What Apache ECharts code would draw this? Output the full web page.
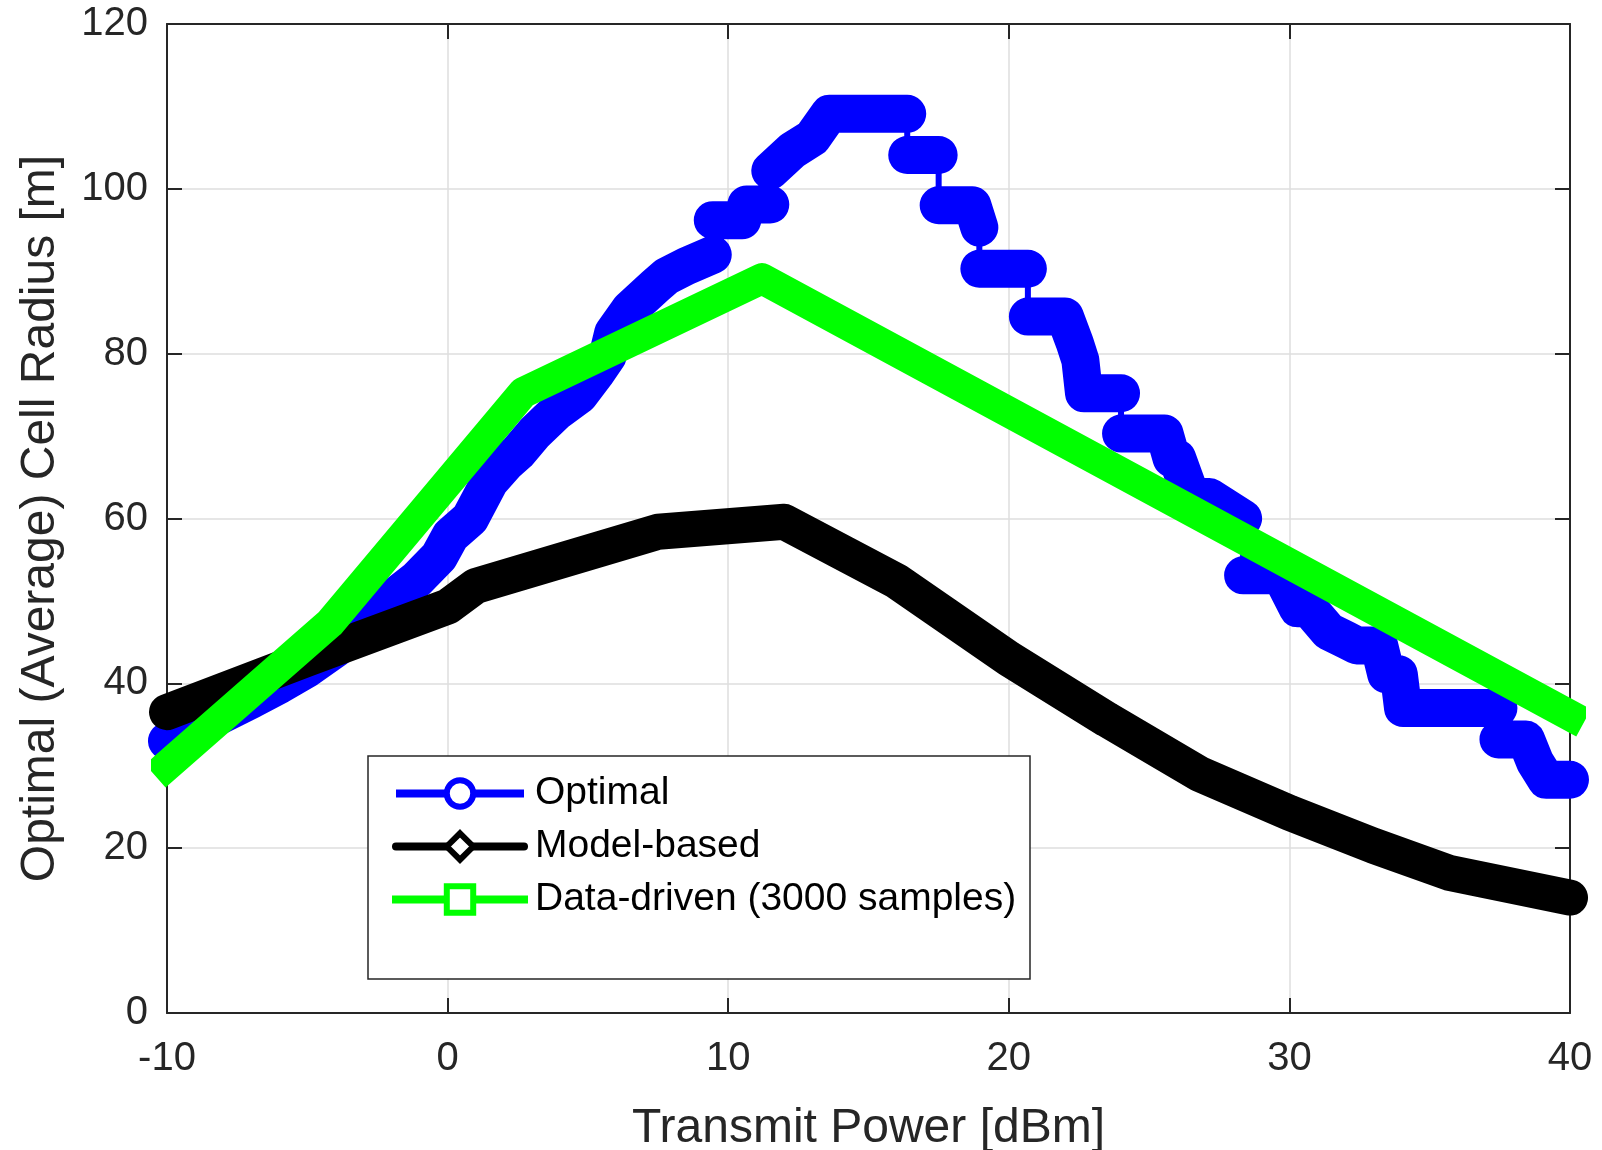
<!DOCTYPE html>
<html><head><meta charset="utf-8">
<script src="https://cdn.jsdelivr.net/npm/echarts@6/dist/echarts.min.js"></script>
<style>html,body{margin:0;padding:0;background:#fff}#c{width:1602px;height:1150px}</style>
</head><body><div id="c"></div>
<script>
// ---- data ----
const xTicks = [-10, 0, 10, 20, 30, 40];
const yTicks = [0, 20, 40, 60, 80, 100, 120];
const seriesNames = ['Optimal', 'Model-based', 'Data-driven (3000 samples)'];
const seriesColors = ['#0000ff', '#000000', '#00ff00'];
const xTitle = 'Transmit Power [dBm]';
const yTitle = 'Optimal (Average) Cell Radius [m]';

// Optimal (step-like, in path order; equal consecutive x = vertical step)
const optimalX = [-10, -9, -8, -7, -6, -5, -4, -3, -2, -1.1, -0.3, 0.1, 0.8, 1.5, 2.1, 2.5, 3.1, 3.9, 4.7, 5.3, 5.7, 5.9, 6.5, 7.4, 7.8, 8.5, 9.45,
  9.45, 10.5, 10.65, 11.5, 11.5, 12.3, 13.0, 13.6, 16.38, 16.38, 17.5, 17.5, 18.7, 18.95, 18.95, 20.68, 20.68, 22.0, 22.35, 22.55, 22.68, 24.0,
  24.0, 25.55, 25.8, 26.0, 26.5, 27.15, 28.35, 28.35, 29.7, 30.3, 30.7, 31.4, 32.0, 32.4, 33.2, 33.45, 33.9, 34.05, 37.45, 37.45, 38.43, 38.75, 39.15, 40];
const optimalY = [33.0, 34.6, 36.3, 38.0, 39.8, 41.8, 44.2, 47.3, 50.2, 52.6, 55.4, 57.9, 60.0, 64.5, 66.8, 68.0, 70.4, 73.0, 75.0, 77.7, 79.7, 82.5, 85.4, 88.2, 89.4, 90.6, 92.0,
  96.2, 96.2, 98.1, 98.1, 102.2, 104.7, 106.2, 109.1, 109.1, 104.1, 104.1, 98.0, 98.0, 95.3, 90.3, 90.3, 84.5, 84.5, 81.3, 79.2, 75.2, 75.2,
  70.3, 70.3, 67.3, 67.3, 62.6, 62.6, 60.0, 53.1, 53.1, 49.1, 49.1, 46.3, 45.3, 44.6, 44.6, 41.1, 41.1, 37.0, 37.0, 33.2, 33.2, 30.5, 28.3, 28.3];

// Model-based
const modelX = [-10, -5, 0, 1, 7.5, 12, 16, 20, 23.5, 26.8, 30, 33, 35.7, 40];
const modelY = [36.5, 43.0, 49.3, 51.8, 58.4, 59.6, 52.4, 43.0, 35.6, 29.0, 24.3, 20.3, 17.0, 14.0];

// Data-driven (3000 samples)
const dataX = [-10, -4.2, 2.7, 11.2, 40];
const dataY = [30.0, 47.3, 75.3, 89.1, 36.1];

// ---- build ----
const FONT = '"Liberation Sans", Arial, Helvetica, sans-serif';
const optPts = optimalX.map((x, i) => [x, optimalY[i]]);
const optThick = [];
for (let i = 0; i < optPts.length; i++) {
  optThick.push(optPts[i]);
  if (i + 1 < optPts.length && optimalX[i + 1] === optimalX[i]) optThick.push([optimalX[i], '-']);
}
const modelPts = modelX.map((x, i) => [x, modelY[i]]);
const dataPts = dataX.map((x, i) => [x, dataY[i]]);

const AX = '#262626';
const xStep = xTicks[1] - xTicks[0];
const yStep = yTicks[1] - yTicks[0];
const baseAxis = {
  axisLine: { show: true, onZero: false, lineStyle: { color: AX, width: 2 } },
  axisTick: { show: true, inside: true, length: 15, lineStyle: { color: AX, width: 2 } }
};

const chart = echarts.init(document.getElementById('c'), null, { renderer: 'canvas' });
chart.setOption({
  animation: false,
  backgroundColor: '#fff',
  grid: { left: 167, right: 32, top: 24, bottom: 137, containLabel: false, outerBoundsMode: 'none' },
  xAxis: [
    Object.assign({}, baseAxis, {
      type: 'value', position: 'bottom', min: xTicks[0], max: xTicks[xTicks.length - 1], interval: xStep,
      name: xTitle, nameLocation: 'middle', nameGap: 92, nameMoveOverlap: false,
      nameTextStyle: { fontFamily: FONT, fontSize: 48, color: AX },
      axisLabel: { margin: 26, fontFamily: FONT, fontSize: 40, color: AX },
      splitLine: { show: true, lineStyle: { color: '#dedede', width: 1.5 } }
    }),
    Object.assign({}, baseAxis, {
      type: 'value', position: 'top', min: xTicks[0], max: xTicks[xTicks.length - 1], interval: xStep,
      axisLabel: { show: false }, splitLine: { show: false }
    })
  ],
  yAxis: [
    Object.assign({}, baseAxis, {
      type: 'value', position: 'left', min: yTicks[0], max: yTicks[yTicks.length - 1], interval: yStep,
      name: yTitle, nameLocation: 'middle', nameGap: 102, nameRotate: 90, nameMoveOverlap: false,
      nameTextStyle: { fontFamily: FONT, fontSize: 48, color: AX },
      axisLabel: { margin: 19, fontFamily: FONT, fontSize: 40, color: AX },
      splitLine: { show: true, lineStyle: { color: '#dedede', width: 1.5 } }
    }),
    Object.assign({}, baseAxis, {
      type: 'value', position: 'right', min: yTicks[0], max: yTicks[yTicks.length - 1], interval: yStep,
      axisLabel: { show: false }, splitLine: { show: false }
    })
  ],
  legend: {
    show: true, orient: 'vertical', left: 392, top: 774, padding: 0, itemGap: 14,
    itemWidth: 128, itemHeight: 33, selectedMode: false, z: 10,
    data: seriesNames.map((n, i) => ({
      name: n,
      itemStyle: { color: '#ffffff', borderColor: seriesColors[i], borderWidth: 6 },
      lineStyle: { width: 8, color: seriesColors[i] }
    })),
    lineStyle: { width: 8 },
    textStyle: { fontFamily: FONT, fontSize: 39, color: '#000', padding: [0, 0, 0, 6] }
  },
  graphic: [{
    type: 'rect', z: 3, silent: true,
    shape: { x: 368, y: 756, width: 662, height: 223 },
    style: { fill: '#fff', stroke: AX, lineWidth: 1.5 }
  }],
  series: [
    {
      name: seriesNames[0], type: 'line', data: optPts, clip: false, z: 2,
      symbol: 'circle', showSymbol: false,
      lineStyle: { color: seriesColors[0], width: 6 }, itemStyle: { color: seriesColors[0] }
    },
    {
      name: 'Optimal markers', type: 'line', data: optThick, clip: false, z: 2, connectNulls: false,
      symbol: 'none', showSymbol: false,
      lineStyle: { color: seriesColors[0], width: 38, join: 'round', cap: 'round' },
      itemStyle: { color: seriesColors[0] }
    },
    {
      name: seriesNames[1], type: 'line', data: modelPts, clip: false, z: 2,
      symbol: 'diamond', showSymbol: false,
      lineStyle: { color: seriesColors[1], width: 36, join: 'round', cap: 'round' }, itemStyle: { color: seriesColors[1] }
    },
    {
      name: seriesNames[2], type: 'line', data: dataPts, clip: false, z: 2,
      symbol: 'rect', showSymbol: false,
      lineStyle: { color: seriesColors[2], width: 31, join: 'round', cap: 'square' }, itemStyle: { color: seriesColors[2] }
    }
  ]
});
</script></body></html>
